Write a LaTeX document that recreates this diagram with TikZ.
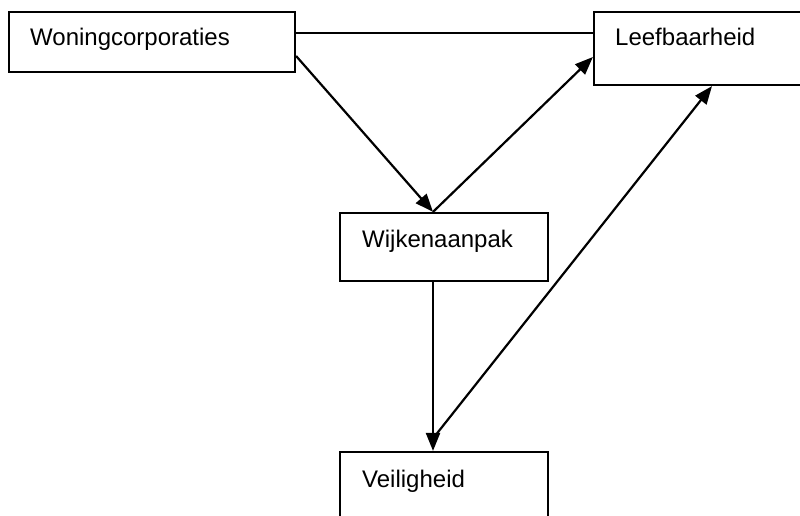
\documentclass[tikz,border=0pt]{standalone}
\usepackage{fontspec}
\setmainfont{Liberation Sans}
\usetikzlibrary{arrows.meta}
\begin{document}
\begin{tikzpicture}[x=1pt,y=-1pt,
  box/.style={draw,line width=2.2pt,inner sep=0pt,minimum width=#1},
  lbl/.style={anchor=base west,inner sep=0pt,font=\fontsize{24}{28}\selectfont},
  link/.style={line width=2.2pt},
  arr/.style={line width=2.2pt,-{Triangle[length=18pt,width=14pt]}}]
\useasboundingbox (0,0) rectangle (800,515);
\clip (0,0) rectangle (800,515);
\node[box=286pt,minimum height=60pt] (woning) at (152,42) {};
\node[box=216pt,minimum height=73pt] (leef) at (702,48.5) {};
\node[box=208pt,minimum height=68pt] (wijk) at (444,247) {};
\node[box=208pt,minimum height=80pt] (veil) at (444,492) {};
\node[lbl] (twoning) at (30,45.7) {Woningcorporaties};
\node[lbl] (tleef) at (615,45) {Leefbaarheid};
\node[lbl] (twijk) at (362,247) {Wijkenaanpak};
\node[lbl] (tveil) at (362,487) {Veiligheid};
\draw[link] ([yshift=9pt]woning.east) -- ([yshift=15.5pt]leef.west);
\draw[arr] ([yshift=-14pt]woning.east) -- ([xshift=-11pt]wijk.north);
\draw[arr] ([xshift=-11pt]wijk.north) -- ([yshift=-8.5pt]leef.west);
\draw[arr] ([xshift=-11pt]wijk.south) -- ([xshift=-11pt]veil.north);
\coordinate (vtip) at ([xshift=-9pt,yshift=15pt]veil.north);
\draw[arr] (vtip) -- ([xshift=10pt]leef.south);
\end{tikzpicture}
\end{document}
